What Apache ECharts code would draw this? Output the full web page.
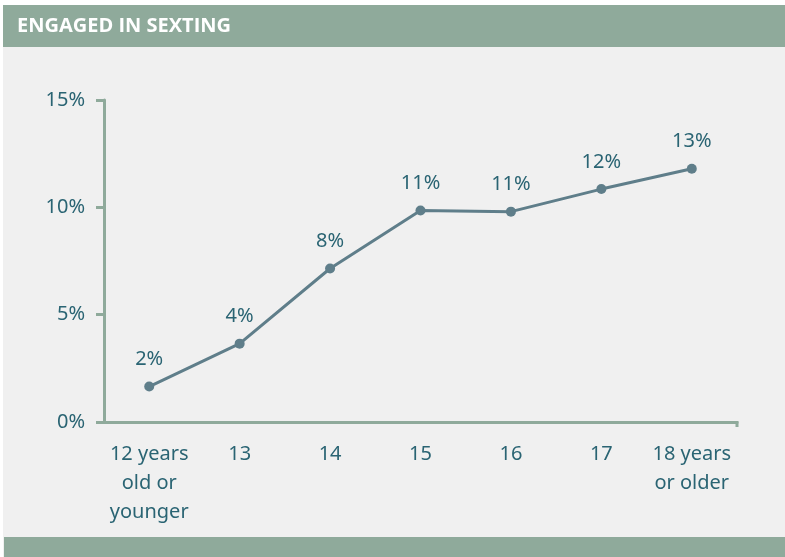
<!DOCTYPE html>
<html>
<head>
<meta charset="utf-8">
<script src="https://cdn.jsdelivr.net/npm/echarts@6/dist/echarts.min.js"></script>
<style>
  html, body { margin: 0; padding: 0; background: #ffffff; }
  #main { width: 785px; height: 557px; }
</style>
</head>
<body>
<div id="main"></div>
<script>
// data
const categories = ['12 years\nold or\nyounger', '13', '14', '15', '16', '17', '18 years\nor older']
const values = [1.65, 3.65, 7.15, 9.85, 9.8, 10.85, 11.8]
const valueLabels = ['2%', '4%', '8%', '11%', '11%', '12%', '13%']
const yTicks = [0, 5, 10, 15]

const axisColor = '#8faa9b'
const textColor = '#2a6473'
const lineColor = '#5f7e8a'
const font = 'Noto Sans'

const chart = echarts.init(document.getElementById('main'))

chart.setOption({
  backgroundColor: '#ffffff',
  animation: false,
  graphic: [
    // panel background
    { type: 'rect', shape: { x: 3, y: 5, width: 782, height: 552 }, style: { fill: '#f0f0f0' }, z: -10 },
    // header band
    { type: 'rect', shape: { x: 3, y: 5, width: 782, height: 42 }, style: { fill: axisColor } },
    {
      type: 'text', left: 17, top: 16,
      style: { text: 'ENGAGED IN SEXTING', fill: '#ffffff', font: 'bold 20px "Open Sans"' }
    },
    // footer band
    { type: 'rect', shape: { x: 4, y: 537, width: 781, height: 20 }, style: { fill: axisColor } },
    // end tick of the x axis
    { type: 'line', shape: { x1: 737, y1: 421, x2: 737, y2: 427 }, style: { stroke: axisColor, lineWidth: 3 } }
  ],
  grid: { left: 104, right: 48, top: 100, bottom: 135, containLabel: false },
  xAxis: {
    type: 'category',
    data: categories,
    boundaryGap: true,
    axisLine: { lineStyle: { color: axisColor, width: 3 } },
    axisTick: { alignWithLabel: true, length: 5, lineStyle: { color: axisColor, width: 3 } },
    axisLabel: {
      interval: 0, margin: 18, color: textColor, fontFamily: font, fontSize: 20, lineHeight: 29
    }
  },
  yAxis: {
    type: 'value',
    min: yTicks[0],
    max: yTicks[yTicks.length - 1],
    interval: 5,
    splitLine: { show: false },
    axisLine: { show: true, lineStyle: { color: axisColor, width: 3 } },
    axisTick: { show: true, length: 8, lineStyle: { color: axisColor, width: 3 } },
    axisLabel: {
      margin: 19, color: textColor, fontFamily: font, fontSize: 20,
      formatter: v => v + '%'
    }
  },
  series: [
    {
      type: 'line',
      data: values,
      symbol: 'circle',
      symbolSize: 10,
      lineStyle: { color: lineColor, width: 3 },
      itemStyle: { color: lineColor },
      label: {
        show: true,
        position: 'top',
        distance: 12,
        color: textColor,
        fontFamily: font,
        fontSize: 20,
        formatter: p => valueLabels[p.dataIndex]
      }
    }
  ]
})
</script>
</body>
</html>
